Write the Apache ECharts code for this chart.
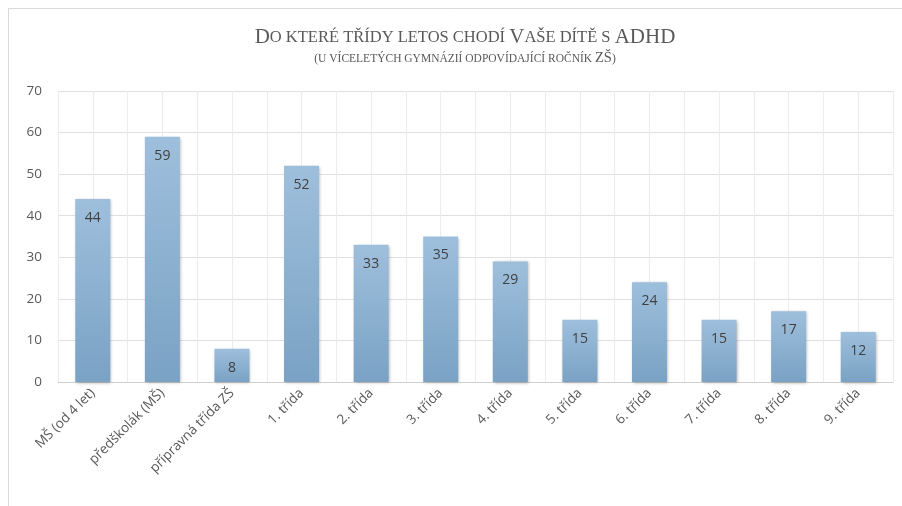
<!DOCTYPE html>
<html>
<head>
<meta charset="utf-8" />
<title>ADHD – třídy</title>
<style type="text/css">
	html, body {margin:0;padding:0;background:#fff;}
	#chart {width:902px;height:506px;}
</style>
</head>
<body>
<div id="chart"></div>
<script src="https://cdn.jsdelivr.net/npm/echarts@6/dist/echarts.min.js"></script>
<script type="text/javascript">
// data
const categories = ['MŠ (od 4 let)', 'předškolák (MŠ)', 'přípravná třída ZŠ', '1. třída', '2. třída', '3. třída',
	'4. třída', '5. třída', '6. třída', '7. třída', '8. třída', '9. třída'];
const counts = [44, 59, 8, 52, 33, 35, 29, 15, 24, 15, 17, 12];
const yTicks = [0, 10, 20, 30, 40, 50, 60, 70];

// half-category axis, only for the vertical gridlines
const halfSlots = [];
for (let i = 0; i < categories.length * 2; i++) halfSlots.push('');

const chart = echarts.init(document.getElementById('chart'));
const labelFont = '"Open Sans", "Noto Sans", sans-serif';
const serif = '"Liberation Serif", "DejaVu Serif", serif';

chart.setOption({
	animation: false,
	title: {
		text: '{a|D}{b|O KTERÉ TŘÍDY LETOS CHODÍ }{a|V}{b|AŠE DÍTĚ S }{a|ADHD}',
		subtext: '{c|(U VÍCELETÝCH GYMNÁZIÍ ODPOVÍDAJÍCÍ ROČNÍK }{d|ZŠ}{c|)}',
		left: 460,
		top: 22,
		textAlign: 'center',
		itemGap: 3,
		textStyle: {
			rich: {
				a: {fontFamily: serif, fontWeight: 'normal', fontSize: 21, color: '#595959'},
				b: {fontFamily: serif, fontWeight: 'normal', fontSize: 16.5, color: '#595959'}
			}
		},
		subtextStyle: {
			rich: {
				c: {fontFamily: serif, fontWeight: 'normal', fontSize: 11.5, color: '#595959'},
				d: {fontFamily: serif, fontWeight: 'normal', fontSize: 14.5, color: '#595959'}
			}
		}
	},
	graphic: [{
		type: 'rect',
		silent: true,
		shape: {x: 8.5, y: 8.5, width: 1000, height: 1000},
		style: {fill: 'none', stroke: '#d9d9d9', lineWidth: 1}
	}],
	grid: {left: 58, right: 9, top: 91, bottom: 124},
	xAxis: [{
		type: 'category',
		data: categories,
		axisLine: {lineStyle: {color: '#d0d0d0', width: 1}},
		axisTick: {show: false},
		splitLine: {show: false},
		axisLabel: {
			interval: 0,
			rotate: 45,
			color: '#595959',
			fontFamily: labelFont,
			fontSize: 13.5,
			margin: 9
		}
	}, {
		type: 'category',
		data: halfSlots,
		position: 'bottom',
		axisLine: {show: false},
		axisTick: {show: false},
		axisLabel: {show: false},
		splitLine: {show: true, interval: 0, lineStyle: {color: '#ececec', width: 1}}
	}],
	yAxis: {
		type: 'value',
		min: yTicks[0],
		max: yTicks[yTicks.length - 1],
		interval: yTicks[1] - yTicks[0],
		axisLine: {show: false},
		axisTick: {show: false},
		axisLabel: {color: '#595959', fontFamily: labelFont, fontSize: 13.5, margin: 16},
		splitLine: {lineStyle: {color: '#e0e0e0', width: 1}}
	},
	series: [{
		type: 'bar',
		xAxisIndex: 0,
		data: counts,
		barWidth: 35,
		itemStyle: {
			color: new echarts.graphic.LinearGradient(0, 0, 0, 1, [
				{offset: 0, color: '#9ebfdc'},
				{offset: 1, color: '#7aa2c4'}
			]),
			shadowBlur: 3,
			shadowOffsetX: 1,
			shadowOffsetY: 1,
			shadowColor: 'rgba(0,0,0,0.3)'
		},
		label: {
			show: true,
			position: 'insideTop',
			distance: 12,
			color: '#404040',
			fontFamily: labelFont,
			fontSize: 14
		}
	}]
});
</script>
</body>
</html>
